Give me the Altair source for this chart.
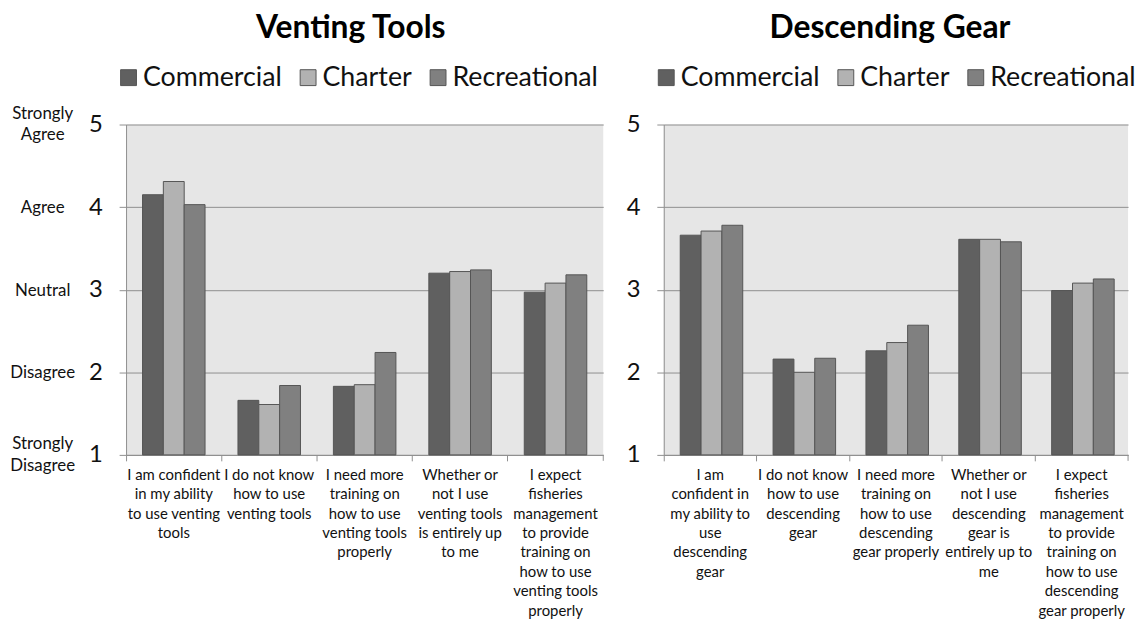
import altair as alt
import pandas as pd

groups = ["Commercial", "Charter", "Recreational"]
group_colors = ["#606060", "#b2b2b2", "#808080"]

vent_categories = [
    "I am confident\nin my ability\nto use venting\ntools",
    "I do not know\nhow to use\nventing tools",
    "I need more\ntraining on\nhow to use\nventing tools\nproperly",
    "Whether or\nnot I use\nventing tools\nis entirely up\nto me",
    "I expect\nfisheries\nmanagement\nto provide\ntraining on\nhow to use\nventing tools\nproperly",
]
vent_commercial = [4.15, 1.66, 1.83, 3.20, 2.97]
vent_charter = [4.31, 1.61, 1.85, 3.22, 3.08]
vent_recreational = [4.03, 1.84, 2.24, 3.24, 3.18]

desc_categories = [
    "I am\nconfident in\nmy ability to\nuse\ndescending\ngear",
    "I do not know\nhow to use\ndescending\ngear",
    "I need more\ntraining on\nhow to use\ndescending\ngear properly",
    "Whether or\nnot I use\ndescending\ngear is\nentirely up to\nme",
    "I expect\nfisheries\nmanagement\nto provide\ntraining on\nhow to use\ndescending\ngear properly",
]
desc_commercial = [3.66, 2.16, 2.26, 3.61, 2.99]
desc_charter = [3.71, 2.00, 2.36, 3.61, 3.08]
desc_recreational = [3.78, 2.17, 2.57, 3.58, 3.13]

likert_levels = [1, 2, 3, 4, 5]
likert_labels = ["Strongly\nDisagree", "Disagree", "Neutral", "Agree", "Strongly\nAgree"]

FONT = "Lato"
GRID = "#8f8f8f"
H = 333


def panel(title, cats, comm, chart_v, rec, width, words, label_pad, title_dx):
    rows = []
    for i, c in enumerate(cats):
        for g, vals in zip(groups, [comm, chart_v, rec]):
            rows.append({"cat": c, "group": g, "value": vals[i]})
    df = pd.DataFrame(rows)

    bars = alt.Chart(df).mark_bar(stroke="#555555", strokeWidth=1).encode(
        x=alt.X("cat:N", sort=cats,
                scale=alt.Scale(paddingInner=0, paddingOuter=0),
                axis=alt.Axis(labels=False, title=None, bandPosition=0, tickSize=6,
                              tickColor=GRID, domainColor=GRID, grid=False)),
        xOffset=alt.XOffset("group:N", sort=groups,
                            scale=alt.Scale(paddingInner=0, paddingOuter=0.79)),
        y=alt.Y("value:Q", scale=alt.Scale(domain=[1, 5], nice=False, zero=False),
                axis=alt.Axis(values=likert_levels, format="d", title=None,
                              labelFontSize=24, labelFont=FONT, labelColor="#111111",
                              labelPadding=label_pad, tickSize=7, tickColor=GRID,
                              domainColor=GRID, gridColor=GRID, grid=True)),
        y2=alt.datum(1),
        color=alt.Color("group:N", sort=groups,
                        scale=alt.Scale(domain=groups, range=group_colors),
                        legend=alt.Legend(orient="none", legendX=-11, legendY=-61,
                                          direction="horizontal", title=None,
                                          symbolType="square", symbolSize=256,
                                          symbolStrokeColor="#555555", symbolStrokeWidth=1,
                                          labelFontSize=27, labelFont=FONT,
                                          labelColor="#111111", labelOffset=1,
                                          columnPadding=12, padding=0)),
    )

    xlab = alt.Chart(pd.DataFrame({"cat": cats})).mark_text(
        lineBreak="\n", baseline="top", align="center", fontSize=15,
        lineHeight=19.6, font=FONT, color="#111111"
    ).encode(
        x=alt.X("cat:N", sort=cats),
        y=alt.value(H + 13),
        text="cat:N",
    )

    endtick = alt.Chart(pd.DataFrame({"a": [0]})).mark_rule(color=GRID).encode(
        x=alt.value(width), y=alt.value(H), y2=alt.value(H + 6)
    )

    layers = [bars, xlab, endtick]
    if words:
        wdf = pd.DataFrame({"level": likert_levels, "label": likert_labels})
        base = alt.Chart(wdf).encode(
            x=alt.value(-84),
            y=alt.Y("level:Q"),
            text="label:N",
        )
        style = dict(lineBreak="\n", baseline="middle", align="center", fontSize=17,
                     lineHeight=22, font=FONT, color="#111111")
        two = base.mark_text(dy=-11, **style).transform_filter(
            "indexof(datum.label, '\\n') >= 0")
        one = base.mark_text(dy=1, **style).transform_filter(
            "indexof(datum.label, '\\n') < 0")
        layers += [two, one]

    return alt.layer(*layers).properties(
        width=width, height=H,
        title=alt.TitleParams(title, fontSize=32, fontWeight="bold", font=FONT,
                              color="#000000", anchor="middle", dx=title_dx, offset=19),
    )


left = panel("Venting Tools", vent_categories, vent_commercial, vent_charter,
             vent_recreational, 481, True, 17, -14)
right = panel("Descending Gear", desc_categories, desc_commercial, desc_charter,
              desc_recreational, 468, False, 17, -6)

chart = alt.hconcat(left, right, spacing=22).resolve_scale(
    color="independent"
).resolve_legend(color="independent").configure_view(
    fill="#e6e6e6", stroke=None
).properties(padding={"left": 2, "top": 2, "right": 0, "bottom": 0},
             background="white")

chart.save("out.html", embed_options={"renderer": "svg", "actions": False})
